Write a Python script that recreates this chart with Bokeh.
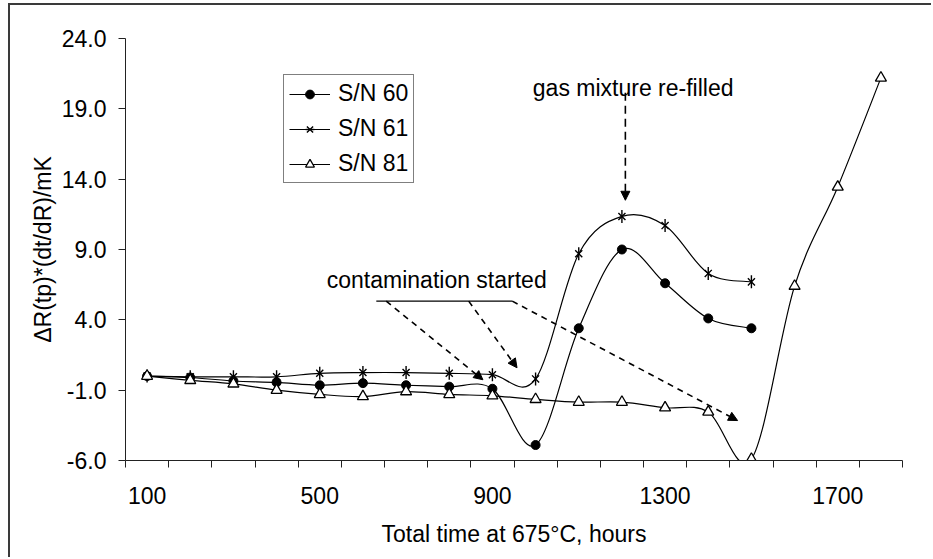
import numpy as np
from bokeh.plotting import figure
from bokeh.models import (ColumnDataSource, FixedTicker, NumeralTickFormatter, Range1d,
                          Legend, LegendItem, Arrow, NormalHead, Label)
from bokeh.embed import file_html
from bokeh.resources import INLINE

# ---------------- data ----------------
hours_a = [100, 200, 300, 400, 500, 600, 700, 800, 900, 1000, 1100, 1200, 1300, 1400, 1500]
hours_b = [100, 200, 300, 400, 500, 600, 700, 800, 900, 1000, 1100, 1200, 1300, 1400, 1500,
           1600, 1700, 1800]
sn60 = [0.0, -0.1, -0.35, -0.45, -0.65, -0.5, -0.65, -0.75, -0.9, -4.9, 3.4, 9.0, 6.6, 4.1, 3.4]
sn61 = [0.0, -0.05, -0.05, -0.05, 0.2, 0.25, 0.25, 0.2, 0.1, -0.2, 8.7, 11.35, 10.7, 7.3, 6.7]
sn81 = [0.0, -0.3, -0.55, -1.0, -1.3, -1.45, -1.1, -1.3, -1.4, -1.65, -1.85, -1.85, -2.25,
        -2.55, -5.9, 6.4, 13.45, 21.2]
x_tick_labels = [100, 500, 900, 1300, 1700]
y_ticks = [-6, -1, 4, 9, 14, 19, 24]

FONT = "Liberation Sans"
FS = "23px"


def smooth_segments(xs, ys):
    """Catmull-Rom style Bezier segments (like spreadsheet 'smoothed line')."""
    P = np.column_stack([np.asarray(xs, float), np.asarray(ys, float)])
    n = len(P)
    x0, y0, x1, y1, cx0, cy0, cx1, cy1 = ([] for _ in range(8))
    for i in range(n - 1):
        pm = P[i - 1] if i > 0 else P[i]
        p0 = P[i]
        p1 = P[i + 1]
        pp = P[i + 2] if i + 2 < n else P[i + 1]
        c0 = p0 + (p1 - pm) / 6.0
        c1 = p1 - (pp - p0) / 6.0
        x0.append(p0[0]); y0.append(p0[1]); x1.append(p1[0]); y1.append(p1[1])
        cx0.append(c0[0]); cy0.append(c0[1]); cx1.append(c1[0]); cy1.append(c1[1])
    return ColumnDataSource(dict(x0=x0, y0=y0, x1=x1, y1=y1, cx0=cx0, cy0=cy0, cx1=cx1, cy1=cy1))


OX, OY = 10, 5  # canvas offset inside the outer border
p = figure(width=933 - OX, height=559 - OY, output_backend="svg", toolbar_location=None,
           x_range=Range1d(50, 1850), y_range=Range1d(-6, 24),
           min_border_left=125 - OX, min_border_right=31, min_border_top=38 - OY,
           min_border_bottom=99)
p.styles = {"border-left": "2px solid #3a3a3a", "border-top": "2px solid #3a3a3a",
            "margin-left": "8px", "margin-top": "3px"}
p.outline_line_color = None
p.xgrid.visible = False
p.ygrid.visible = False
p.background_fill_color = "white"
p.border_fill_color = "white"

# axes
xa = p.xaxis[0]
xa.ticker = FixedTicker(ticks=x_tick_labels, minor_ticks=[50 + 100 * k for k in range(19)])
xa.major_tick_out = 0
xa.major_tick_in = 0
xa.minor_tick_out = 7
xa.minor_tick_in = 0
xa.minor_tick_line_color = "#222222"
xa.major_label_standoff = 19
xa.axis_label = "Total time at 675°C, hours"
xa.axis_label_standoff = 14

ya = p.yaxis[0]
ya.ticker = FixedTicker(ticks=y_ticks, minor_ticks=[])
ya.formatter = NumeralTickFormatter(format="0.0")
ya.major_tick_out = 7
ya.major_tick_in = 0
ya.major_tick_line_color = "#222222"
ya.major_label_standoff = 12
ya.axis_label = "ΔR(tp)*(dt/dR)/mK"
ya.axis_label_standoff = 3

for ax in (xa, ya):
    ax.axis_line_color = "#222222"
    ax.axis_line_width = 1
    ax.major_label_text_font = FONT
    ax.major_label_text_font_size = FS
    ax.major_label_text_color = "black"
    ax.axis_label_text_font = FONT
    ax.axis_label_text_font_size = FS
    ax.axis_label_text_font_style = "normal"
    ax.axis_label_text_color = "black"

# smoothed lines
for xs, ys in ((hours_a, sn60), (hours_a, sn61), (hours_b, sn81)):
    p.bezier(x0="x0", y0="y0", x1="x1", y1="y1", cx0="cx0", cy0="cy0", cx1="cx1", cy1="cy1",
             source=smooth_segments(xs, ys), line_color="black", line_width=1.2)

m60 = p.scatter(hours_a, sn60, marker="circle", size=9, fill_color="black", line_color="black")
# star marker: an "x" with a vertical bar
m61x = p.scatter(hours_a, sn61, marker="x", size=10, line_color="black", line_width=1.4)
m61v = p.scatter(hours_a, sn61, marker="dash", angle=np.pi / 2, size=13, line_color="black",
                 line_width=1.4)
m81 = p.scatter(hours_b, sn81, marker="triangle", size=11, fill_color="white", line_color="black",
                line_width=1.3)

# legend proxies (drawn outside the visible ranges)
l60 = p.line([0, 1], [-100, -100], line_color="black", line_width=1.2)
l61 = p.line([0, 1], [-100, -100], line_color="black", line_width=1.2)
l81 = p.line([0, 1], [-100, -100], line_color="black", line_width=1.2)

legend = Legend(items=[LegendItem(label="S/N 60", renderers=[l60, m60]),
                       LegendItem(label="S/N 61", renderers=[l61, m61x, m61v]),
                       LegendItem(label="S/N 81", renderers=[l81, m81])],
                location=(158, 277), orientation="vertical",
                glyph_width=41, glyph_height=22, label_height=22, spacing=8,
                padding=5, margin=0, label_standoff=8,
                label_text_font=FONT, label_text_font_size=FS, label_text_color="black",
                border_line_color="black", border_line_width=1,
                background_fill_color="white", background_fill_alpha=1)
p.add_layout(legend, "center")

# annotations
p.add_layout(Label(x=1226, y=20.45, text="gas mixture re-filled", text_align="center",
                   text_baseline="alphabetic", text_font=FONT, text_font_size=FS,
                   text_color="black"))
p.add_layout(Arrow(x_start=1208, y_start=20.15, x_end=1208, y_end=12.5,
                   line_color="black", line_width=1.6, line_dash="8 5",
                   end=NormalHead(size=9, fill_color="black", line_color="black")))

p.add_layout(Label(x=771, y=6.8, text="contamination started", text_align="center",
                   text_baseline="alphabetic", text_font=FONT, text_font_size=FS,
                   text_color="black"))
p.segment(x0=[631], y0=[5.33], x1=[946], y1=[5.33], line_color="black", line_width=1.2)
for xs_, ys_, xe_, ye_ in ((654, 5.33, 878, -0.26),
                           (845, 5.33, 957, 0.59),
                           (946, 5.33, 1468, -3.16)):
    p.add_layout(Arrow(x_start=xs_, y_start=ys_, x_end=xe_, y_end=ye_,
                       line_color="black", line_width=1.6, line_dash="6 5",
                       end=NormalHead(size=9, fill_color="black", line_color="black")))

open("out.html", "w").write(file_html(p, INLINE))
